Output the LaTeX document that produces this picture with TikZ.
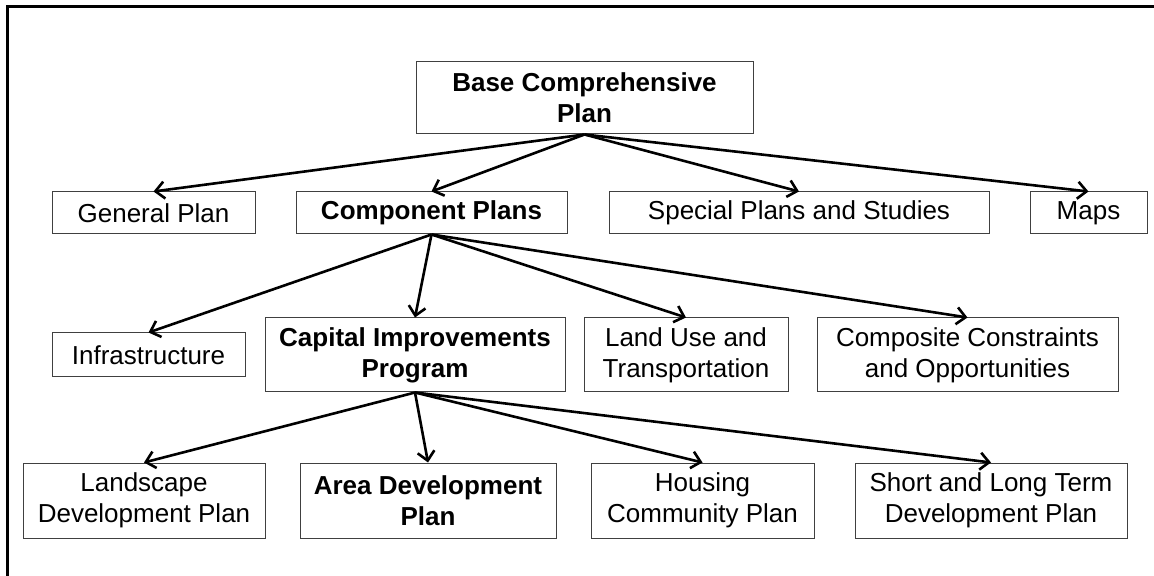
\documentclass[tikz,border=0pt]{standalone}
\usepackage{fontspec}
\setmainfont{Liberation Sans}
\usetikzlibrary{arrows.meta}

\begin{document}
\begin{tikzpicture}[x=0.5pt, y=-0.5pt,
    every node/.style={font=\fontsize{13}{15.5}\selectfont, align=center, inner sep=0pt},
    box/.style={draw=black!75, line width=0.5pt},
    boldbox/.style={box, font=\fontsize{13}{15.5}\selectfont\bfseries},
    arr/.style={line width=1.3pt, -{Straight Barb[length=4.5pt, width=8.5pt, line width=1.3pt]}}]
      \useasboundingbox (0,0) rectangle (1154,576);
      \draw[line width=1.5pt] (7,576) -- (7,7) -- (1154,7);
      % top
      \node[boldbox, minimum width=168.5pt, minimum height=36pt] (base) at (584.5,98) {Base Comprehensive\\Plan};
      % second row
      \node[box, minimum width=101.5pt, minimum height=21pt] (gen) at (153.5,213) {General Plan};
      \node[boldbox, minimum width=135.5pt, minimum height=21pt] (comp) at (431.5,213) {Component Plans};
      \node[box, minimum width=190pt, minimum height=21pt] (spec) at (799,213) {Special Plans and Studies};
      \node[box, minimum width=58.5pt, minimum height=21pt] (maps) at (1088.5,213) {Maps};
      % third row
      \node[box, minimum width=96.5pt, minimum height=22pt] (infra) at (148.5,355) {Infrastructure};
      \node[boldbox, minimum width=150pt, minimum height=37pt] (cip) at (415,355) {Capital Improvements\\Program};
      \node[box, minimum width=102pt, minimum height=37pt] (land) at (686,355) {Land Use and\\Transportation};
      \node[box, minimum width=150.5pt, minimum height=37pt] (cons) at (967.5,355) {Composite Constraints\\and Opportunities};
      % bottom row
      \node[box, minimum width=121pt, minimum height=37.5pt] (lands) at (144,500.5) {Landscape\\Development Plan};
      \node[boldbox, minimum width=128pt, minimum height=37.5pt] (area) at (428,500.5) {Area Development\\Plan};
      \node[box, minimum width=111.5pt, minimum height=37.5pt] (hous) at (702.5,500.5) {Housing\\Community Plan};
      \node[box, minimum width=136pt, minimum height=37.5pt] (term) at (991,500.5) {Short and Long Term\\Development Plan};
      % arrows
      \foreach \c in {gen, comp, spec, maps}
        \draw[arr] (base.south) -- (\c.north);
      \foreach \c in {infra, cip, land, cons}
        \draw[arr] (comp.south) -- (\c.north);
      \foreach \c in {lands, area, hous, term}
        \draw[arr] (cip.south) -- (\c.north);
\end{tikzpicture}
\end{document}
